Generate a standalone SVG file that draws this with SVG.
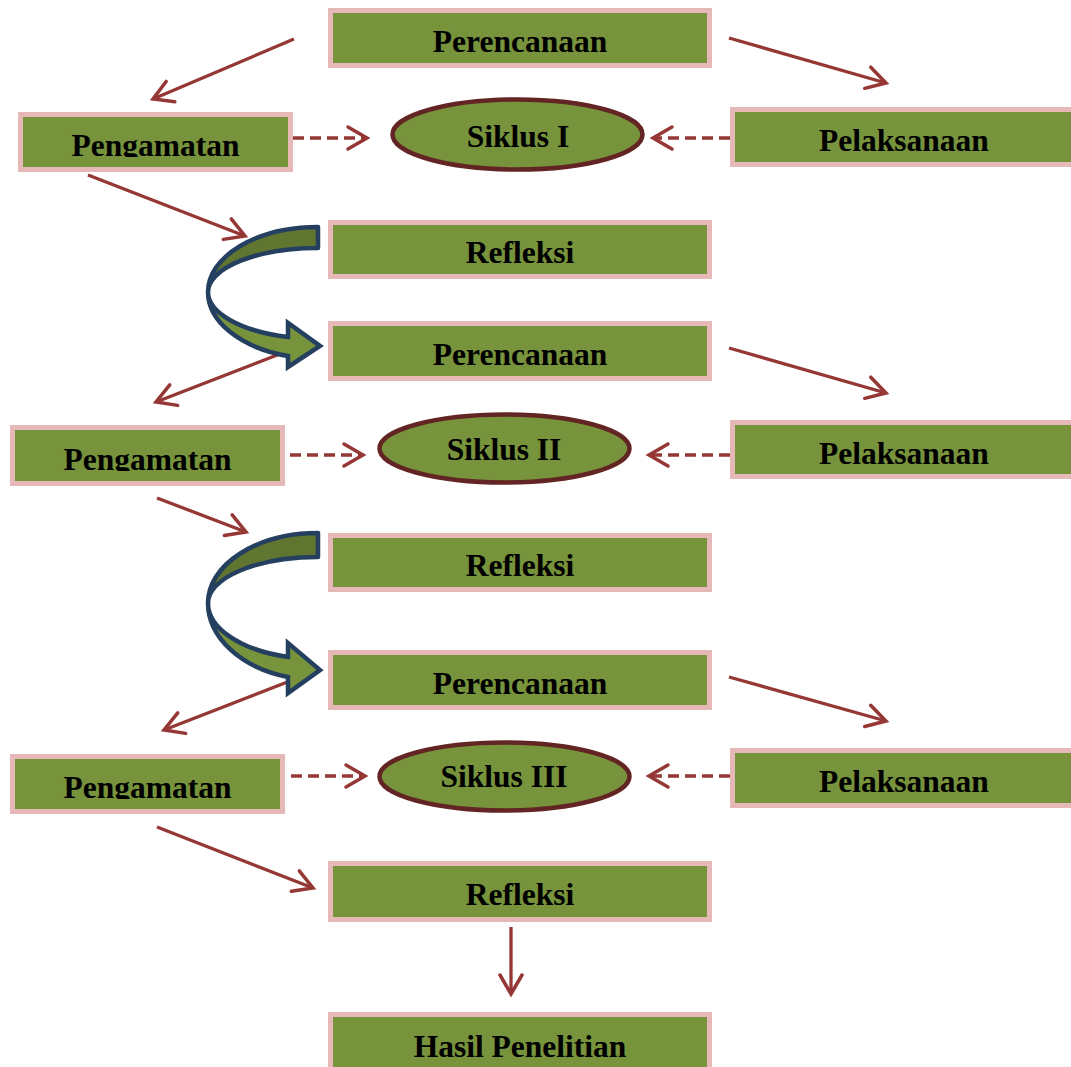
<svg xmlns="http://www.w3.org/2000/svg" width="1071" height="1067" viewBox="0 0 1071 1067">
<style>
.box{fill:#77933c;stroke:#e6b9b8;stroke-width:5}
.ell{fill:#77933c;stroke:#632523;stroke-width:4.5}
.t{font-family:"Liberation Serif","Times New Roman",serif;font-weight:bold;font-size:31.5px;fill:#000;text-anchor:middle}
.ln{fill:none;stroke:#953735;stroke-width:3.3;marker-end:url(#ah)}
.dl{fill:none;stroke:#953735;stroke-width:3.3;stroke-dasharray:11 6;marker-end:url(#ah)}
.cdark{fill:#5f7530;stroke:#243f60;stroke-width:4.5;stroke-linejoin:round}
.clight{fill:#77933c;stroke:#243f60;stroke-width:4.5;stroke-linejoin:miter}
</style>
<defs>
<marker id="ah" markerUnits="userSpaceOnUse" markerWidth="30" markerHeight="30" viewBox="-25 -15 30 30" refX="0" refY="0" orient="auto">
<path d="M-19,-11 L0,0 L-19,11" fill="none" stroke="#953735" stroke-width="3.5" stroke-linecap="round"/>
</marker>
<clipPath id="c1"><rect x="0" y="100" width="300" height="57"/></clipPath>
<clipPath id="c2"><rect x="0" y="420" width="300" height="51"/></clipPath>
<clipPath id="c3"><rect x="0" y="750" width="300" height="49"/></clipPath>
</defs>
<rect width="1071" height="1067" fill="#fff"/>
<g id="connectors">
<line class="ln" x1="294" y1="39" x2="153" y2="99"/>
<line class="ln" x1="729" y1="38" x2="886" y2="83"/>
<line class="dl" x1="293" y1="138" x2="367" y2="138"/>
<line class="dl" x1="730" y1="138" x2="653" y2="138"/>
<line class="ln" x1="88" y1="175" x2="245" y2="236"/>
<line class="ln" x1="290" y1="350" x2="156" y2="402"/>
<line class="ln" x1="729" y1="348" x2="886" y2="393"/>
<line class="dl" x1="290" y1="455" x2="363" y2="455"/>
<line class="dl" x1="730" y1="455" x2="649" y2="455"/>
<line class="ln" x1="157" y1="498" x2="246" y2="532"/>
<line class="ln" x1="290" y1="681" x2="164" y2="730"/>
<line class="ln" x1="729" y1="677" x2="886" y2="721"/>
<line class="dl" x1="291" y1="776" x2="365" y2="776"/>
<line class="dl" x1="730" y1="776" x2="649" y2="776"/>
<line class="ln" x1="157" y1="827" x2="313" y2="888"/>
<line class="ln" x1="511" y1="927" x2="511" y2="994"/>
<g id="curve1">
<path class="clight" d="M208,292 A110,66.5 0 0 0 288,356 L288,367 L320,346 L288,323 L288,337 A110,46.8 0 0 1 208,292 Z"/>
<path class="cdark" d="M318,227 A110,65 0 0 0 208,292 A110,44 0 0 1 318,248 Z"/>
</g>
<g id="curve2">
<path class="clight" d="M208,603 A110,77 0 0 0 288,677 L288,693 L320,670 L288,643 L288,657 A110,56 0 0 1 208,603 Z"/>
<path class="cdark" d="M318,533 A110,70 0 0 0 208,603 A110,46 0 0 1 318,557 Z"/>
</g>
</g>
<g id="perencanaan1"><rect class="box" x="330.5" y="10.5" width="379" height="55"/><text class="t" x="520" y="52">Perencanaan</text></g>
<g id="pengamatan1"><rect class="box" x="20.5" y="114.5" width="270" height="55"/><text class="t" x="155.5" y="156" clip-path="url(#c1)">Pengamatan</text></g>
<g id="siklus1"><ellipse class="ell" cx="517.5" cy="134.5" rx="125" ry="35"/><text class="t" x="518" y="147">Siklus I</text></g>
<g id="pelaksanaan1"><rect class="box" x="732.5" y="109.5" width="350" height="55"/><text class="t" x="904" y="151">Pelaksanaan</text></g>
<g id="refleksi1"><rect class="box" x="330.5" y="222.5" width="379" height="54"/><text class="t" x="520" y="263">Refleksi</text></g>
<g id="perencanaan2"><rect class="box" x="330.5" y="323.5" width="379" height="55"/><text class="t" x="520" y="365">Perencanaan</text></g>
<g id="pengamatan2"><rect class="box" x="12.5" y="427.5" width="270" height="56"/><text class="t" x="147.5" y="470" clip-path="url(#c2)">Pengamatan</text></g>
<g id="siklus2"><ellipse class="ell" cx="504.5" cy="448.5" rx="125" ry="34"/><text class="t" x="504" y="460">Siklus II</text></g>
<g id="pelaksanaan2"><rect class="box" x="732.5" y="422.5" width="350" height="54"/><text class="t" x="904" y="464">Pelaksanaan</text></g>
<g id="refleksi2"><rect class="box" x="330.5" y="535.5" width="379" height="54"/><text class="t" x="520" y="576">Refleksi</text></g>
<g id="perencanaan3"><rect class="box" x="330.5" y="652.5" width="379" height="55"/><text class="t" x="520" y="694">Perencanaan</text></g>
<g id="pengamatan3"><rect class="box" x="12.5" y="756.5" width="270" height="55"/><text class="t" x="147.5" y="798" clip-path="url(#c3)">Pengamatan</text></g>
<g id="siklus3"><ellipse class="ell" cx="504.5" cy="776.5" rx="125" ry="34"/><text class="t" x="504" y="787">Siklus III</text></g>
<g id="pelaksanaan3"><rect class="box" x="732.5" y="750.5" width="350" height="55"/><text class="t" x="904" y="792">Pelaksanaan</text></g>
<g id="refleksi3"><rect class="box" x="330.5" y="863.5" width="379" height="56"/><text class="t" x="520" y="905">Refleksi</text></g>
<g id="hasil"><rect class="box" x="330.5" y="1014.5" width="379" height="70"/><text class="t" x="520" y="1057">Hasil Penelitian</text></g>
</svg>
